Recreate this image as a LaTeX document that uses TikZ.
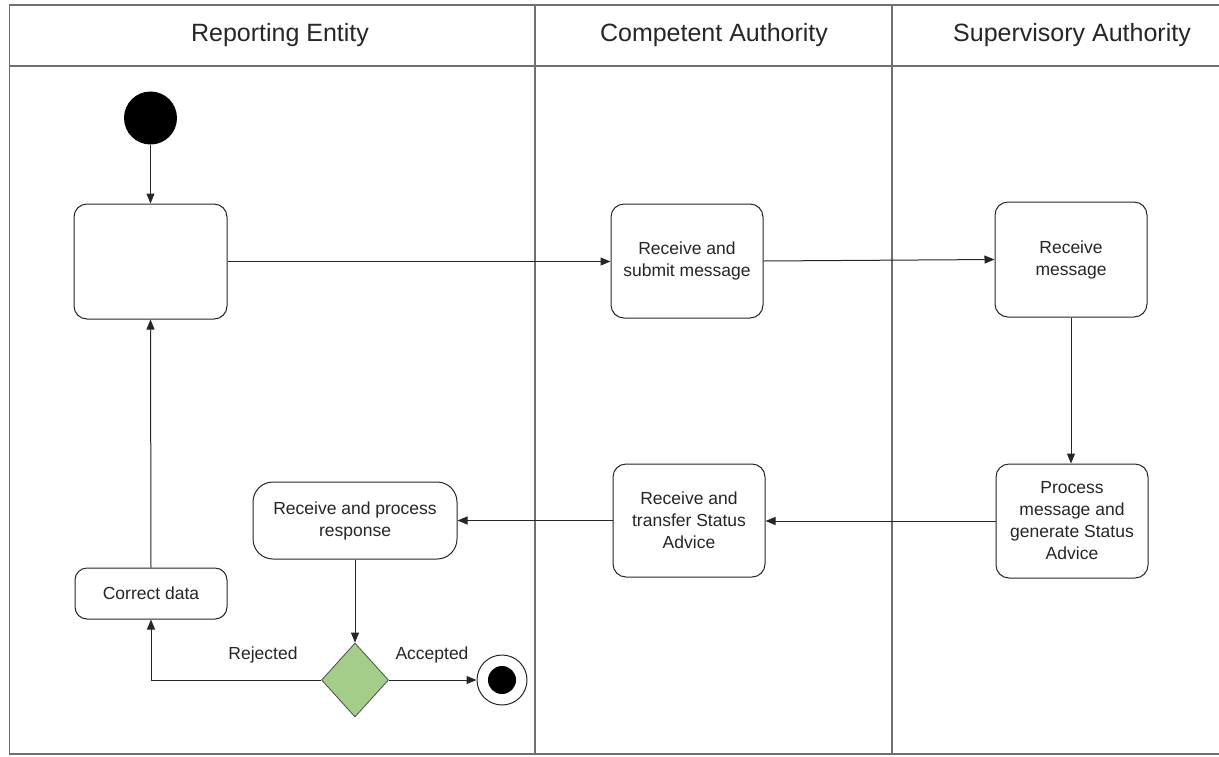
\documentclass[tikz,border=0pt]{standalone}
\usepackage{fontspec}
\setmainfont{Liberation Sans}
\usetikzlibrary{arrows.meta,shapes.geometric}
\definecolor{lanegray}{HTML}{707070}
\definecolor{decgreen}{HTML}{A4CD8A}
\begin{document}
\begin{tikzpicture}[x=1pt,y=-1pt,
  lane/.style={draw=lanegray, line width=1.6pt},
  act/.style={draw=black!85, line width=1pt, rounded corners=13pt, fill=white, align=center, inner sep=0pt, font=\fontsize{17.5}{22}\selectfont, text=black!85},
  flow/.style={draw=black!85, line width=1pt, -{Triangle[length=10pt,width=8pt]}},
  hdr/.style={font=\fontsize{25}{30}\selectfont, text=black!85},
  lbl/.style={font=\fontsize{17.5}{22}\selectfont, text=black!85}
]
\useasboundingbox (0,0) rectangle (1219,756);
% swimlane frame
\draw[lane] (1219,5) -- (9.5,5) -- (9.5,754) -- (1219,754);
\draw[lane] (9.5,66) -- (1219,66);
\draw[lane] (535,5) -- (535,754);
\draw[lane] (892,5) -- (892,754);
% headers
\node[hdr] (h1) at (280,35) {Reporting Entity};
\node[hdr] (h2) at (714,35) {Competent Authority};
\node[hdr] (h3) at (1072,35) {Supervisory Authority};
% nodes
\node[circle, fill=black, minimum size=53pt, inner sep=0pt] (start) at (150.5,118) {};
\node[act, minimum width=153pt, minimum height=115pt] (b1) at (150.5,261.5) {};
\node[act, minimum width=152pt, minimum height=114pt] (sub) at (687,261) {Receive and\\submit message};
\node[act, minimum width=152pt, minimum height=115pt] (recv) at (1071,259.5) {Receive\\message};
\node[act, minimum width=152pt, minimum height=114pt] (proc) at (1072,521) {Process\\message and\\generate Status\\Advice};
\node[act, minimum width=152pt, minimum height=113pt] (trans) at (689,520.5) {Receive and\\transfer Status\\Advice};
\node[act, rounded corners=20pt, minimum width=204pt, minimum height=77pt] (resp) at (355,520.5) {Receive and process\\response};
\node[act, rounded corners=12pt, minimum width=152pt, minimum height=51pt] (corr) at (151,593.5) {Correct data};
\node[diamond, draw=black!70, line width=0.8pt, fill=decgreen, minimum width=67pt, minimum height=74pt, inner sep=0pt] (dec) at (355,680) {};
\node[circle, draw=black!85, line width=1pt, fill=white, minimum size=50pt, inner sep=0pt] (end) at (502,680) {};
\node[circle, fill=black, minimum size=28pt, inner sep=0pt] (endin) at (end) {};
% labels
\node[lbl] (rej) at (263,655) {Rejected};
\node[lbl] (acc) at (432,655) {Accepted};
% connectors
\draw[flow] (start) -- (b1);
\draw[flow] (b1.east) -- (b1.east -| sub.west);
\draw[flow] (sub.east) -- (recv.west);
\draw[flow] (recv.south) -- (recv.south |- proc.north);
\draw[flow] (proc.west) -- (proc.west -| trans.east);
\draw[flow] (trans.west) -- (trans.west -| resp.east);
\draw[flow] (resp.south) -- (dec.north);
\draw[flow] (dec.west) -| (corr.south);
\draw[flow] (corr.north) -- (b1.south);
\draw[flow] (dec.east) -- (end.west);
\end{tikzpicture}
\end{document}
